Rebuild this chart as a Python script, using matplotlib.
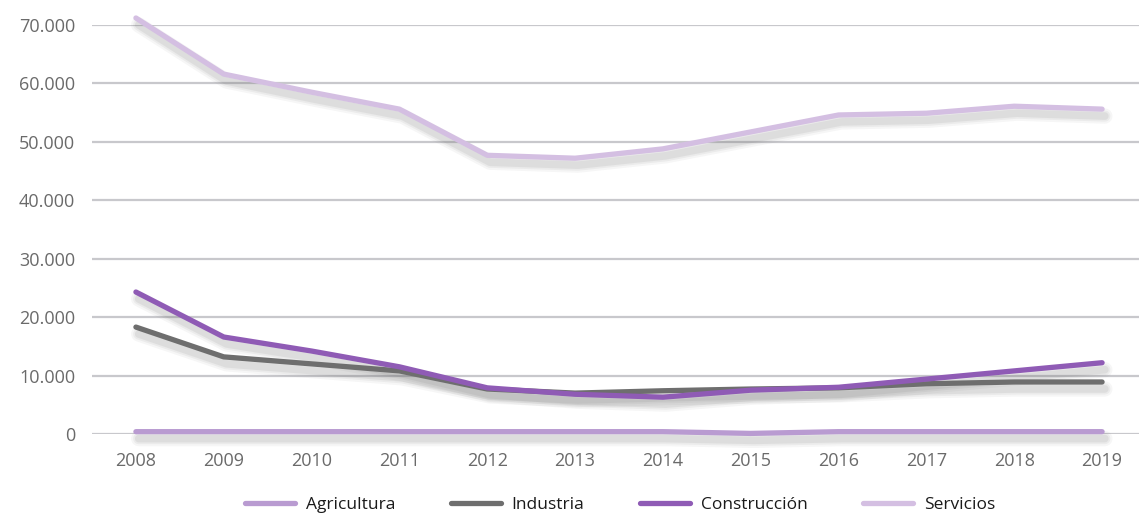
import matplotlib.pyplot as plt
from matplotlib.transforms import offset_copy
import numpy as np

years = ['2008', '2009', '2010', '2011', '2012', '2013', '2014', '2015', '2016', '2017', '2018', '2019']
agricultura = [400, 400, 400, 400, 400, 400, 400, 100, 400, 400, 400, 400]
industria = [18300, 13200, 12000, 10800, 7700, 7000, 7400, 7700, 7900, 8600, 8900, 8900]
construccion = [24300, 16600, 14200, 11500, 7900, 6800, 6300, 7500, 8000, 9400, 10800, 12200]
servicios = [71200, 61600, 58500, 55600, 47700, 47200, 48800, 51700, 54600, 54900, 56100, 55600]

plt.rcParams['font.family'] = ['Open Sans', 'DejaVu Sans']

W, H = 1139, 515
fig = plt.figure(figsize=(W / 100, H / 100), dpi=100)
ax = fig.add_axes([92 / W, (H - 434) / H, (1146 - 92) / W, (434 - 25) / H])

x = np.arange(len(years))

series = [('Agricultura', agricultura, '#b99bd1'),
          ('Industria', industria, '#6e6e6e'),
          ('Construcción', construccion, '#8f5bb5'),
          ('Servicios', servicios, '#d4bfe2')]

# soft drop shadow: a few wide, faint copies shifted down-right
for name, vals, col in series:
    for lw, a in [(11, 0.06), (8, 0.08), (5.5, 0.10)]:
        tr = offset_copy(ax.transData, fig=fig, x=2, y=-5, units='points')
        ax.plot(x, vals, color='#6a6a6a', lw=lw, alpha=a, transform=tr,
                solid_capstyle='round', solid_joinstyle='round', clip_on=False, zorder=2)

for name, vals, col in series:
    ax.plot(x, vals, color=col, lw=3.8, label=name, solid_capstyle='round',
            solid_joinstyle='round', clip_on=False, zorder=3)

ax.set_xlim(-0.5, 11.5)
ax.set_ylim(0, 70000)
ax.set_yticks(range(0, 70001, 10000))
ax.set_yticklabels(['0' if v == 0 else f'{v // 1000}.000' for v in range(0, 70001, 10000)])
ax.set_xticks(x)
ax.set_xticklabels(years)
ax.grid(axis='y', color='#c8c8cc', lw=1.6, zorder=0)
ax.set_axisbelow(True)
for s in ax.spines.values():
    s.set_visible(False)
ax.tick_params(axis='y', length=0, pad=12, labelsize=13, labelcolor='#6a6a6a')
ax.tick_params(axis='x', length=0, pad=13, labelsize=13, labelcolor='#6a6a6a')

handles, labels = ax.get_legend_handles_labels()
leg = fig.legend(handles, labels, loc='center', bbox_to_anchor=(620 / W, 1 - 505 / H), ncol=4,
                 frameon=False, fontsize=12.5, handlelength=2.9, columnspacing=3.2,
                 handletextpad=0.6)
for t in leg.get_texts():
    t.set_color('#1a1a1a')

fig.savefig('out.png', dpi=100)
